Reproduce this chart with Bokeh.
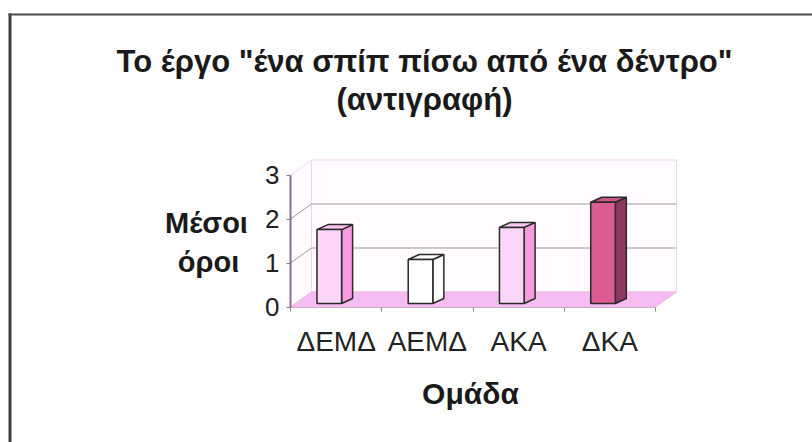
from bokeh.plotting import figure
from bokeh.models import Range1d, LinearAxis, FixedTicker, Label, BoxAnnotation
from bokeh.embed import file_html
from bokeh.resources import INLINE

# ---- data ----
categories = ["ΔΕΜΔ", "ΑΕΜΔ", "ΑΚΑ", "ΔΚΑ"]
means = [1.68, 1.0, 1.73, 2.3]
y_ticks = [0, 1, 2, 3]
title_lines = ['Το έργο "ένα σπίπ πίσω από ένα δέντρο"', "(αντιγραφή)"]
y_title_lines = ["Μέσοι", "όροι"]
x_title = "Ομάδα"

# ---- styles ----
front_colors = ["#fcd6f8", "#ffffff", "#fcd6f8", "#db5b93"]
side_colors = ["#f79ddf", "#ffffff", "#f79ddf", "#8c3a63"]
top_colors = ["#fbc6f0", "#ffffff", "#fbc6f0", "#c9578a"]
FONT = "Liberation Sans"

W, H = 812, 442
X0PX, CATPX = 290.0, 91.25      # pixel of x=0, pixels per category
Y0PX, UNITPX = 306.5, 44.0      # pixel of value 0, pixels per unit

# depth offsets (data units)
DXW, DYW = 21 / CATPX, 15 / UNITPX      # wall depth
BDX, BDY = 11 / CATPX, 5 / UNITPX       # bar depth
BAR_OFF, BAR_W = 0.29, 0.27             # bar front face within category band
BASE = 3.5 / UNITPX                     # bar base (mid-depth of floor)

n = len(categories)
ymax = max(y_ticks)

p = figure(width=W, height=H, toolbar_location=None, output_backend="svg",
           x_axis_location=None, y_axis_location=None,
           x_range=Range1d(-X0PX / CATPX, (W - X0PX) / CATPX),
           y_range=Range1d(-(H - Y0PX) / UNITPX, Y0PX / UNITPX),
           min_border=0, min_border_left=0, min_border_right=0,
           min_border_top=0, min_border_bottom=0)
p.outline_line_color = None
p.grid.visible = False
p.background_fill_color = "white"
p.border_fill_color = "white"

# walls and floor
p.patch([0, DXW, DXW, 0], [0, DYW, ymax + DYW, ymax],
        fill_color="#fffbfe", line_color="#f3d3ef", line_width=1)
p.patch([DXW, n + DXW, n + DXW, DXW], [DYW, DYW, ymax + DYW, ymax + DYW],
        fill_color="#fffbfe", line_color="#f3d3ef", line_width=1)
p.patch([0, n, n + DXW, DXW], [0, 0, DYW, DYW],
        fill_color="#f5bdf1", line_color="#ecb5e8", line_width=1)

# gridlines
for t in y_ticks[1:-1]:
    p.line([0, DXW], [t, t + DYW], line_color="#9a9a9a", line_width=1)
    p.line([DXW, n + DXW], [t + DYW, t + DYW], line_color="#9a9a9a", line_width=1)

# 3D bars
xs_front, ys_front, xs_side, ys_side, xs_top, ys_top = [], [], [], [], [], []
for i, v in enumerate(means):
    x0 = i + BAR_OFF
    x1 = x0 + BAR_W
    y0 = BASE
    y1 = BASE + v
    xs_front.append([x0, x1, x1, x0]); ys_front.append([y0, y0, y1, y1])
    xs_side.append([x1, x1 + BDX, x1 + BDX, x1]); ys_side.append([y0, y0 + BDY, y1 + BDY, y1])
    xs_top.append([x0, x1, x1 + BDX, x0 + BDX]); ys_top.append([y1, y1, y1 + BDY, y1 + BDY])

p.patches(xs_side, ys_side, fill_color=side_colors, line_color="#2a2a2a", line_width=1.5)
p.patches(xs_top, ys_top, fill_color=top_colors, line_color="#2a2a2a", line_width=1.5)
p.patches(xs_front, ys_front, fill_color=front_colors, line_color="#2a2a2a", line_width=1.5)

# y axis
yax = LinearAxis(fixed_location=0, bounds=(0, ymax),
                 ticker=FixedTicker(ticks=y_ticks, minor_ticks=[]))
yax.axis_line_color = "#85708f"
yax.axis_line_width = 2
yax.major_tick_line_color = "#85708f"
yax.major_tick_out = 4
yax.major_tick_in = 0
yax.minor_tick_out = 0
yax.minor_tick_in = 0
yax.major_label_standoff = 7
yax.major_label_text_font = FONT
yax.major_label_text_font_size = "26px"
yax.major_label_text_color = "#222222"
p.add_layout(yax, "left")

# x axis
xax = LinearAxis(fixed_location=0, bounds=(0, n),
                 ticker=FixedTicker(ticks=[i + 0.5 for i in range(n)],
                                    minor_ticks=list(range(n + 1))))
xax.major_label_overrides = {i + 0.5: c for i, c in enumerate(categories)}
xax.axis_line_color = "#c9b3c6"
xax.axis_line_width = 1
xax.major_tick_out = 0
xax.major_tick_in = 0
xax.minor_tick_out = 4
xax.minor_tick_in = 0
xax.minor_tick_line_color = "#888888"
xax.major_label_standoff = 15
xax.major_label_text_font = FONT
xax.major_label_text_font_size = "28px"
xax.major_label_text_color = "#222222"
p.add_layout(xax, "below")

# titles
for txt, base in zip(title_lines, [61, 99]):
    p.add_layout(Label(x=424, y=H - base, x_units="screen", y_units="screen",
                       text=txt, text_align="center", text_baseline="alphabetic",
                       text_font=FONT, text_font_style="bold", text_font_size="31px",
                       text_color="#1a1a1a"))
for txt, cx, base in zip(y_title_lines, [206, 208], [222, 261]):
    p.add_layout(Label(x=cx, y=H - base, x_units="screen", y_units="screen",
                       text=txt, text_align="center", text_baseline="alphabetic",
                       text_font=FONT, text_font_style="bold", text_font_size="29px",
                       text_color="#1a1a1a"))
p.add_layout(Label(x=470, y=H - 393, x_units="screen", y_units="screen",
                   text=x_title, text_align="center", text_baseline="alphabetic",
                   text_font=FONT, text_font_style="bold", text_font_size="30px",
                   text_color="#1a1a1a"))

# outer chart border (left and top edges)
p.add_layout(BoxAnnotation(left=8, right=11, bottom=0, top=H - 13,
                           left_units="screen", right_units="screen",
                           bottom_units="screen", top_units="screen",
                           fill_color="#3d3d3d", fill_alpha=1, line_color=None))
p.add_layout(BoxAnnotation(left=8, right=W, bottom=H - 15, top=H - 13,
                           left_units="screen", right_units="screen",
                           bottom_units="screen", top_units="screen",
                           fill_color="#4a4a4a", fill_alpha=1, line_color=None))

open("out.html", "w").write(file_html(p, INLINE))
